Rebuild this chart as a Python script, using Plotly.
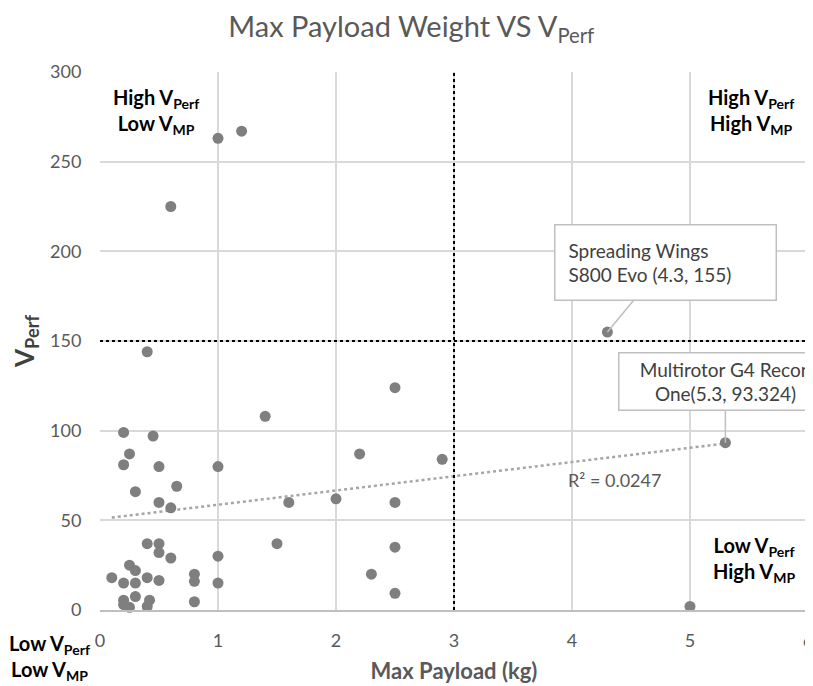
import numpy as np
import plotly.graph_objects as go

payload = [0.4, 1.4, 0.2, 0.45, 0.25, 0.2, 0.5, 1.0, 0.65, 0.3, 0.5, 0.6, 1.6,
           0.4, 0.5, 0.5, 0.6, 1.0, 1.5, 0.25, 0.3, 0.1, 0.2, 0.3, 0.4, 0.5,
           0.8, 0.8, 1.0, 0.3, 0.2, 0.2, 0.25, 0.42, 0.4, 0.8,
           2.5, 2.2, 2.9, 2.0, 2.5, 2.5, 2.3, 2.5,
           0.6, 1.0, 1.2, 4.3, 5.3, 5.0]
vperf = [144, 108, 99, 97, 87, 81, 80, 80, 69, 66, 60, 57, 60,
         37, 37, 32, 29, 30, 37, 25, 22, 18, 15, 15, 18, 16.5,
         20, 16, 15, 7.5, 5.5, 3, 1.5, 5.5, 2, 4.6,
         124, 87, 84, 62, 60, 35, 20, 9.3,
         225, 263, 267, 155, 93.324, 2]

x_ticks = [0, 1, 2, 3, 4, 5, 6]
y_ticks = [0, 50, 100, 150, 200, 250, 300]
x_split = 3
y_split = 150

FONT = "Lato"
GRAY_TXT = "#595959"

slope, intercept = np.polyfit(payload, vperf, 1)
tx = np.array([min(payload), max(payload)])
ty = slope * tx + intercept

fig = go.Figure()
fig.add_trace(go.Scatter(x=tx, y=ty, mode="lines",
                         line=dict(color="#a6a6a6", width=2.5, dash="dot"),
                         hoverinfo="skip", showlegend=False))
fig.add_trace(go.Scatter(x=payload, y=vperf, mode="markers",
                         marker=dict(color="#7f7f7f", size=11),
                         showlegend=False, cliponaxis=False))

fig.add_shape(type="line", x0=x_split, x1=x_split, y0=0, y1=300, xref="x", yref="y",
              line=dict(color="black", width=2, dash="dot"))
fig.add_shape(type="line", x0=0, x1=6, y0=y_split, y1=y_split, xref="x", yref="y",
              line=dict(color="black", width=2, dash="dot"))

qfont = dict(family=FONT, size=20, color="black")
fig.add_annotation(x=0.475, y=278, text="<b>High V<sub>Perf</sub></b><br><b>Low V<sub>MP</sub></b>",
                   showarrow=False, font=qfont, align="center")
fig.add_annotation(x=5.52, y=278, text="<b>High V<sub>Perf</sub></b><br><b>High V<sub>MP</sub></b>",
                   showarrow=False, font=qfont, align="center")
fig.add_annotation(x=5.54, y=28.4, text="<b>Low V<sub>Perf</sub></b><br><b>High V<sub>MP</sub></b>",
                   showarrow=False, font=qfont, align="center")
fig.add_annotation(x=-0.072, y=-0.089, xref="paper", yref="paper",
                   xanchor="center", yanchor="middle",
                   text="<b>Low V<sub>Perf</sub></b><br><b>Low V<sub>MP</sub></b>",
                   showarrow=False, font=qfont, align="center")

cfont = dict(family=FONT, size=19, color="#404040")
fig.add_annotation(x=4.3, y=155, text="Spreading Wings<br>S800 Evo (4.3, 155)",
                   showarrow=True, arrowhead=0, arrowcolor="#bfbfbf", arrowwidth=1.5,
                   ax=58, ay=-70, bgcolor="white", bordercolor="#bfbfbf", borderwidth=1.5,
                   borderpad=13, width=194, height=48, font=cfont, align="left")
fig.add_annotation(x=5.3, y=93.324, text="Multirotor G4 Recon<br>One(5.3, 93.324)",
                   showarrow=True, arrowhead=0, arrowcolor="#bfbfbf", arrowwidth=1.5,
                   ax=0, ay=-61, bgcolor="white", bordercolor="#bfbfbf", borderwidth=1.5,
                   borderpad=4, width=204, height=48, font=cfont, align="center")
fig.add_annotation(x=4.36, y=72.5, text="R² = 0.0247", showarrow=False,
                   font=dict(family=FONT, size=18, color=GRAY_TXT))

fig.update_layout(
    width=813, height=686,
    margin=dict(l=92, r=13, t=64, b=84),
    plot_bgcolor="white", paper_bgcolor="white",
    title=dict(text="Max Payload Weight VS V<sub>Perf</sub>", x=0.496, xanchor="center",
               y=0.972, yanchor="middle",
               font=dict(family=FONT, size=29, color=GRAY_TXT)),
    font=dict(family=FONT),
)
fig.update_xaxes(range=[0, 6], tickvals=x_ticks, showgrid=True, gridcolor="#d9d9d9", gridwidth=1.5,
                 zeroline=False, showline=True, linecolor="#bfbfbf", linewidth=2,
                 automargin=False,
                 tickfont=dict(family=FONT, size=18, color=GRAY_TXT),
                 ticks="outside", ticklen=13, tickcolor="rgba(0,0,0,0)",
                 title=dict(text="<b>Max Payload (kg)</b>", standoff=14,
                            font=dict(family=FONT, size=22, color=GRAY_TXT)))
fig.update_yaxes(range=[0, 300], tickvals=y_ticks, showgrid=True, gridcolor="#d9d9d9", gridwidth=1.5,
                 zeroline=False, showline=False, automargin=False,
                 tickfont=dict(family=FONT, size=18, color=GRAY_TXT),
                 ticks="outside", ticklen=14, tickcolor="rgba(0,0,0,0)",
                 title=dict(text="<b>V<sub>Perf</sub></b>", standoff=8,
                            font=dict(family=FONT, size=26, color="#404040")))

fig.write_html("out.html")
